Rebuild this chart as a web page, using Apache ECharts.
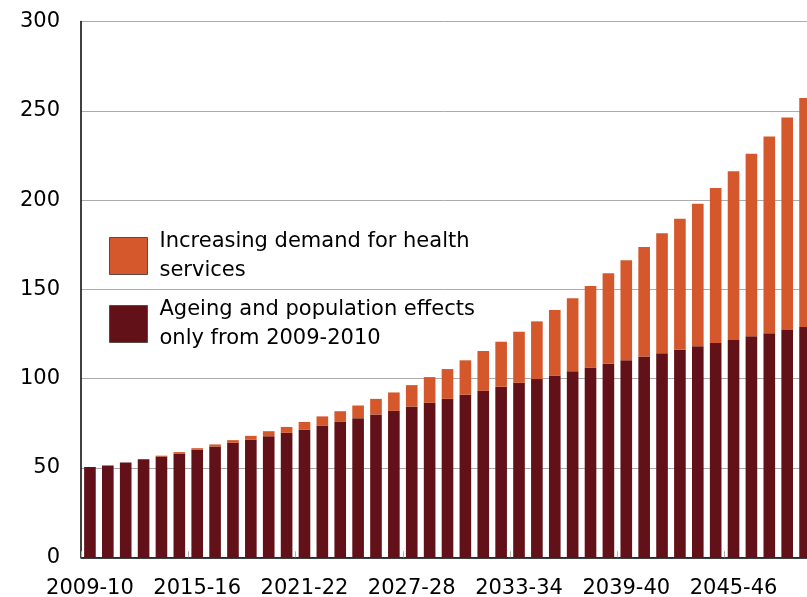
<!DOCTYPE html>
<html>
<head>
<meta charset="utf-8">
<style>
  html, body { margin: 0; padding: 0; background: #ffffff; }
  #chart { width: 807px; height: 597px; }
</style>
<script src="https://cdn.jsdelivr.net/npm/echarts@6/dist/echarts.min.js"></script>
</head>
<body>
<div id="chart"></div>
<script>
// Financial years shown on the category axis
const years = [
  '2009-10', '2010-11', '2011-12', '2012-13', '2013-14', '2014-15', '2015-16',
  '2016-17', '2017-18', '2018-19', '2019-20', '2020-21', '2021-22', '2022-23',
  '2023-24', '2024-25', '2025-26', '2026-27', '2027-28', '2028-29', '2029-30',
  '2030-31', '2031-32', '2032-33', '2033-34', '2034-35', '2035-36', '2036-37',
  '2037-38', '2038-39', '2039-40', '2040-41', '2041-42', '2042-43', '2043-44',
  '2044-45', '2045-46', '2046-47', '2047-48', '2048-49', '2049-50'
];

// Ageing and population effects only (bottom segment)
const ageingEffects = [
  50.6, 51.4, 53.1, 54.9, 56.4, 58.1, 60.4, 62.0, 64.1, 65.8,
  67.8, 69.7, 71.6, 73.6, 75.8, 77.9, 80.0, 82.0, 84.5, 86.5,
  88.7, 91.0, 93.2, 95.5, 97.7, 99.8, 101.8, 104.2, 106.3, 108.4,
  110.4, 112.5, 114.3, 116.2, 118.1, 120.0, 121.6, 123.7, 125.4, 127.2,
  128.9
];

// Additional increase from rising demand for health services (top segment)
const demandIncrease = [
  0.0, 0.0, 0.0, 0.0, 0.5, 0.8, 0.7, 1.2, 1.5, 2.2,
  2.8, 3.3, 4.2, 5.3, 6.0, 7.1, 8.7, 10.3, 11.9, 14.4,
  16.7, 19.3, 22.3, 25.2, 28.6, 32.3, 36.7, 40.9, 45.6, 50.6,
  55.9, 61.3, 67.1, 73.4, 79.8, 86.8, 94.6, 102.2, 110.2, 119.0,
  128.2
];

const yTicks = [0, 50, 100, 150, 200, 250, 300];

const nameDemand = 'Increasing demand for health\nservices';
const nameAgeing = 'Ageing and population effects\nonly from 2009-2010';

const FONT = 'DejaVu Sans';

const chart = echarts.init(document.getElementById('chart'), null, { renderer: 'canvas' });

chart.setOption({
  animation: false,
  backgroundColor: '#ffffff',
  textStyle: { fontFamily: FONT },
  grid: {
    left: 81,
    top: 21.5,
    width: 733,
    height: 535.8,
    containLabel: false,
    // the last bar runs past the right edge of the canvas
    outerBoundsMode: 'none'
  },
  legend: {
    orient: 'vertical',
    left: 104,
    top: 222,
    itemWidth: 38,
    itemHeight: 37,
    itemGap: 10,
    icon: 'rect',
    data: [nameDemand, nameAgeing],
    itemStyle: { borderColor: '#5a4a46', borderWidth: 1 },
    textStyle: {
      fontFamily: FONT,
      fontSize: 21,
      lineHeight: 29,
      color: '#000000',
      padding: [0, 0, 0, 7]
    }
  },
  xAxis: {
    type: 'category',
    data: years,
    boundaryGap: true,
    axisLine: { show: true, lineStyle: { color: '#000000', width: 1.5 } },
    axisTick: {
      show: true,
      interval: 5,
      inside: true,
      length: 6,
      lineStyle: { color: '#b0b0b0', width: 1 }
    },
    axisLabel: {
      interval: 5,
      margin: 21,
      fontFamily: FONT,
      fontSize: 21,
      color: '#000000'
    },
    splitLine: { show: false }
  },
  yAxis: {
    type: 'value',
    min: yTicks[0],
    max: yTicks[yTicks.length - 1],
    interval: yTicks[1] - yTicks[0],
    axisLine: { show: true, lineStyle: { color: '#000000', width: 1.5 } },
    axisTick: { show: false },
    axisLabel: {
      margin: 21,
      fontFamily: FONT,
      fontSize: 21,
      color: '#000000'
    },
    splitLine: { show: true, lineStyle: { color: '#ababab', width: 1 } }
  },
  series: [
    {
      name: nameAgeing,
      type: 'bar',
      stack: 'total',
      barCategoryGap: '35%',
      itemStyle: { color: '#611117' },
      data: ageingEffects
    },
    {
      name: nameDemand,
      type: 'bar',
      stack: 'total',
      barCategoryGap: '35%',
      itemStyle: { color: '#d4582b' },
      data: demandIncrease
    }
  ]
});
</script>
</body>
</html>
